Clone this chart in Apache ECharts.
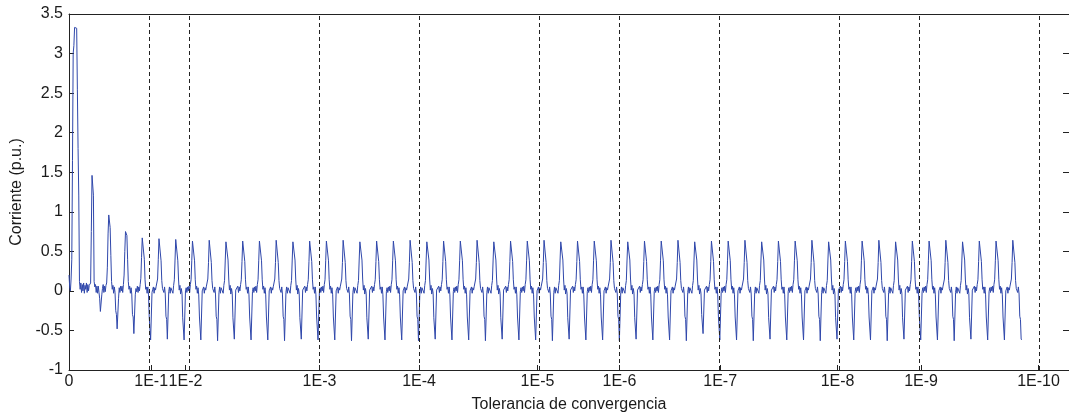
<!DOCTYPE html>
<html>
<head>
<meta charset="utf-8">
<script src="https://cdn.jsdelivr.net/npm/echarts@6/dist/echarts.min.js"></script>
<style>
html,body{margin:0;padding:0;background:#fff;}
#chart{width:1069px;height:418px;}
</style>
</head>
<body>
<div id="chart"></div>
<script>
// Sample step (s) and current samples (p.u.), one row per cycle (24 samples each)
const tiempoPaso = 0.00069755;
const corriente = [
  0.20, 0.05, 0.00, 0.15, 0.40, 1.65, 3.00, 3.10, 3.33, 3.34, 3.33, 3.32, 2.55, 1.80, 1.20, 0.12, 0.02, 0.10, -0.02, 0.08, 0.00, 0.10, -0.03, 0.07,
  0.02, 0.10, -0.02, 0.08, 0.00, 0.07, 0.05, 0.10, 0.75, 1.46, 1.47, 1.21, 0.12, 0.05, 0.08, -0.02, 0.06, -0.03, 0.06, -0.02, -0.10, -0.26, -0.28, -0.05,
  0.03, 0.08, -0.02, 0.06, -0.01, 0.07, 0.10, 0.30, 0.72, 0.96, 0.98, 0.80, 0.45, 0.12, 0.02, 0.07, -0.03, 0.05, -0.02, -0.25, -0.30, -0.48, -0.49, -0.10,
  0.04, -0.02, 0.06, 0.00, 0.06, -0.02, 0.08, 0.20, 0.50, 0.75, 0.77, 0.70, 0.40, 0.12, 0.02, 0.06, -0.03, 0.04, -0.04, -0.30, -0.33, -0.54, -0.55, -0.05,
  0.03, -0.01, 0.06, -0.02, 0.05, 0.00, 0.08, 0.16, 0.42, 0.67, 0.69, 0.65, 0.40, 0.14, 0.02, 0.05, -0.03, 0.05, -0.05, -0.33, -0.35, -0.62, -0.63, -0.02,
  0.02, 0.05, -0.03, 0.04, 0.01, 0.06, 0.07, 0.15, 0.40, 0.66, 0.67, 0.64, 0.38, 0.13, 0.03, 0.05, -0.02, 0.05, -0.04, -0.32, -0.36, -0.61, -0.62, -0.01,
  0.05, -0.03, 0.04, 0.02, 0.05, -0.03, 0.07, 0.14, 0.39, 0.65, 0.66, 0.63, 0.38, 0.15, 0.01, 0.07, -0.04, 0.03, -0.03, -0.34, -0.34, -0.62, -0.63, 0.00,
  0.04, -0.02, 0.05, 0.00, 0.06, -0.02, 0.08, 0.14, 0.38, 0.63, 0.65, 0.62, 0.38, 0.14, 0.02, 0.06, -0.03, 0.04, -0.05, -0.33, -0.35, -0.62, -0.63, 0.00,
  0.02, 0.05, -0.03, 0.04, 0.01, 0.06, 0.07, 0.15, 0.36, 0.64, 0.65, 0.63, 0.36, 0.13, 0.03, 0.05, -0.02, 0.05, -0.04, -0.32, -0.36, -0.63, -0.63, -0.02,
  0.05, -0.03, 0.04, 0.02, 0.05, -0.03, 0.07, 0.13, 0.39, 0.62, 0.64, 0.61, 0.39, 0.15, 0.01, 0.07, -0.04, 0.03, -0.03, -0.34, -0.34, -0.61, -0.62, 0.01,
  0.03, -0.01, 0.06, -0.02, 0.05, 0.00, 0.08, 0.14, 0.37, 0.63, 0.65, 0.62, 0.37, 0.14, 0.02, 0.05, -0.03, 0.05, -0.05, -0.33, -0.35, -0.62, -0.63, -0.01,
  0.04, -0.02, 0.05, 0.00, 0.06, -0.02, 0.08, 0.14, 0.38, 0.63, 0.65, 0.62, 0.38, 0.14, 0.02, 0.06, -0.03, 0.04, -0.05, -0.33, -0.35, -0.62, -0.63, 0.00,
  0.02, 0.05, -0.03, 0.04, 0.01, 0.06, 0.07, 0.15, 0.36, 0.64, 0.65, 0.63, 0.36, 0.13, 0.03, 0.05, -0.02, 0.05, -0.04, -0.32, -0.36, -0.63, -0.63, -0.02,
  0.05, -0.03, 0.04, 0.02, 0.05, -0.03, 0.07, 0.13, 0.39, 0.62, 0.64, 0.61, 0.39, 0.15, 0.01, 0.07, -0.04, 0.03, -0.03, -0.34, -0.34, -0.61, -0.62, 0.01,
  0.03, -0.01, 0.06, -0.02, 0.05, 0.00, 0.08, 0.14, 0.37, 0.63, 0.65, 0.62, 0.37, 0.14, 0.02, 0.05, -0.03, 0.05, -0.05, -0.33, -0.35, -0.62, -0.63, -0.01,
  0.04, -0.02, 0.05, 0.00, 0.06, -0.02, 0.08, 0.14, 0.38, 0.63, 0.65, 0.62, 0.38, 0.14, 0.02, 0.06, -0.03, 0.04, -0.05, -0.33, -0.35, -0.62, -0.63, 0.00,
  0.02, 0.05, -0.03, 0.04, 0.01, 0.06, 0.07, 0.15, 0.36, 0.64, 0.65, 0.63, 0.36, 0.13, 0.03, 0.05, -0.02, 0.05, -0.04, -0.32, -0.36, -0.63, -0.63, -0.02,
  0.05, -0.03, 0.04, 0.02, 0.05, -0.03, 0.07, 0.13, 0.39, 0.62, 0.64, 0.61, 0.39, 0.15, 0.01, 0.07, -0.04, 0.03, -0.03, -0.34, -0.34, -0.61, -0.62, 0.01,
  0.03, -0.01, 0.06, -0.02, 0.05, 0.00, 0.08, 0.14, 0.37, 0.63, 0.65, 0.62, 0.37, 0.14, 0.02, 0.05, -0.03, 0.05, -0.05, -0.33, -0.35, -0.62, -0.63, -0.01,
  0.04, -0.02, 0.05, 0.00, 0.06, -0.02, 0.08, 0.14, 0.38, 0.63, 0.65, 0.62, 0.38, 0.14, 0.02, 0.06, -0.03, 0.04, -0.05, -0.33, -0.35, -0.62, -0.63, 0.00,
  0.02, 0.05, -0.03, 0.04, 0.01, 0.06, 0.07, 0.15, 0.36, 0.64, 0.65, 0.63, 0.36, 0.13, 0.03, 0.05, -0.02, 0.05, -0.04, -0.32, -0.36, -0.63, -0.63, -0.02,
  0.05, -0.03, 0.04, 0.02, 0.05, -0.03, 0.07, 0.13, 0.39, 0.62, 0.64, 0.61, 0.39, 0.15, 0.01, 0.07, -0.04, 0.03, -0.03, -0.34, -0.34, -0.61, -0.62, 0.01,
  0.03, -0.01, 0.06, -0.02, 0.05, 0.00, 0.08, 0.14, 0.37, 0.63, 0.65, 0.62, 0.37, 0.14, 0.02, 0.05, -0.03, 0.05, -0.05, -0.33, -0.35, -0.62, -0.63, -0.01,
  0.04, -0.02, 0.05, 0.00, 0.06, -0.02, 0.08, 0.14, 0.38, 0.63, 0.65, 0.62, 0.38, 0.14, 0.02, 0.06, -0.03, 0.04, -0.05, -0.33, -0.35, -0.62, -0.63, 0.00,
  0.02, 0.05, -0.03, 0.04, 0.01, 0.06, 0.07, 0.15, 0.36, 0.64, 0.65, 0.63, 0.36, 0.13, 0.03, 0.05, -0.02, 0.05, -0.04, -0.32, -0.36, -0.63, -0.63, -0.02,
  0.05, -0.03, 0.04, 0.02, 0.05, -0.03, 0.07, 0.13, 0.39, 0.62, 0.64, 0.61, 0.39, 0.15, 0.01, 0.07, -0.04, 0.03, -0.03, -0.34, -0.34, -0.61, -0.62, 0.01,
  0.03, -0.01, 0.06, -0.02, 0.05, 0.00, 0.08, 0.14, 0.37, 0.63, 0.65, 0.62, 0.37, 0.14, 0.02, 0.05, -0.03, 0.05, -0.05, -0.33, -0.35, -0.62, -0.63, -0.01,
  0.04, -0.02, 0.05, 0.00, 0.06, -0.02, 0.08, 0.14, 0.38, 0.63, 0.65, 0.62, 0.38, 0.14, 0.02, 0.06, -0.03, 0.04, -0.05, -0.33, -0.35, -0.62, -0.63, 0.00,
  0.02, 0.05, -0.03, 0.04, 0.01, 0.06, 0.07, 0.15, 0.36, 0.64, 0.65, 0.63, 0.36, 0.13, 0.03, 0.05, -0.02, 0.05, -0.04, -0.32, -0.36, -0.63, -0.63, -0.02,
  0.05, -0.03, 0.04, 0.02, 0.05, -0.03, 0.07, 0.13, 0.39, 0.62, 0.64, 0.61, 0.39, 0.15, 0.01, 0.07, -0.04, 0.03, -0.03, -0.34, -0.34, -0.61, -0.62, 0.01,
  0.03, -0.01, 0.06, -0.02, 0.05, 0.00, 0.08, 0.14, 0.37, 0.63, 0.65, 0.62, 0.37, 0.14, 0.02, 0.05, -0.03, 0.05, -0.05, -0.33, -0.35, -0.62, -0.63, -0.01,
  0.04, -0.02, 0.05, 0.00, 0.06, -0.02, 0.08, 0.14, 0.38, 0.63, 0.65, 0.62, 0.38, 0.14, 0.02, 0.06, -0.03, 0.04, -0.05, -0.33, -0.35, -0.62, -0.63, 0.00,
  0.02, 0.05, -0.03, 0.04, 0.01, 0.06, 0.07, 0.15, 0.36, 0.64, 0.65, 0.63, 0.36, 0.13, 0.03, 0.05, -0.02, 0.05, -0.04, -0.32, -0.36, -0.63, -0.63, -0.02,
  0.05, -0.03, 0.04, 0.02, 0.05, -0.03, 0.07, 0.13, 0.39, 0.62, 0.64, 0.61, 0.39, 0.15, 0.01, 0.07, -0.04, 0.03, -0.03, -0.34, -0.34, -0.61, -0.62, 0.01,
  0.03, -0.01, 0.06, -0.02, 0.05, 0.00, 0.08, 0.14, 0.37, 0.63, 0.65, 0.62, 0.37, 0.14, 0.02, 0.05, -0.03, 0.05, -0.05, -0.33, -0.35, -0.62, -0.63, -0.01,
  0.04, -0.02, 0.05, 0.00, 0.06, -0.02, 0.08, 0.14, 0.38, 0.63, 0.65, 0.62, 0.38, 0.14, 0.02, 0.06, -0.03, 0.04, -0.05, -0.33, -0.35, -0.62, -0.63, 0.00,
  0.02, 0.05, -0.03, 0.04, 0.01, 0.06, 0.07, 0.15, 0.36, 0.64, 0.65, 0.63, 0.36, 0.13, 0.03, 0.05, -0.02, 0.05, -0.04, -0.32, -0.36, -0.63, -0.63, -0.02,
  0.05, -0.03, 0.04, 0.02, 0.05, -0.03, 0.07, 0.13, 0.39, 0.62, 0.64, 0.61, 0.39, 0.15, 0.01, 0.07, -0.04, 0.03, -0.03, -0.30, -0.32, -0.54, -0.55, 0.01,
  0.03, -0.01, 0.06, -0.02, 0.05, 0.00, 0.08, 0.14, 0.37, 0.63, 0.65, 0.62, 0.37, 0.14, 0.02, 0.05, -0.03, 0.05, -0.05, -0.33, -0.35, -0.62, -0.63, -0.01,
  0.04, -0.02, 0.05, 0.00, 0.06, -0.02, 0.08, 0.14, 0.38, 0.63, 0.65, 0.62, 0.38, 0.14, 0.02, 0.06, -0.03, 0.04, -0.05, -0.33, -0.35, -0.62, -0.63, 0.00,
  0.02, 0.05, -0.03, 0.04, 0.01, 0.06, 0.07, 0.15, 0.36, 0.64, 0.65, 0.63, 0.36, 0.13, 0.03, 0.05, -0.02, 0.05, -0.04, -0.32, -0.36, -0.63, -0.63, -0.02,
  0.05, -0.03, 0.04, 0.02, 0.05, -0.03, 0.07, 0.13, 0.39, 0.62, 0.64, 0.61, 0.39, 0.15, 0.01, 0.07, -0.04, 0.03, -0.03, -0.34, -0.34, -0.61, -0.62, 0.01,
  0.03, -0.01, 0.06, -0.02, 0.05, 0.00, 0.08, 0.14, 0.37, 0.63, 0.65, 0.62, 0.37, 0.14, 0.02, 0.05, -0.03, 0.05, -0.05, -0.33, -0.35, -0.62, -0.63, -0.01,
  0.04, -0.02, 0.05, 0.00, 0.06, -0.02, 0.08, 0.14, 0.38, 0.63, 0.65, 0.62, 0.38, 0.14, 0.02, 0.06, -0.03, 0.04, -0.05, -0.33, -0.35, -0.62, -0.63, 0.00,
  0.02, 0.05, -0.03, 0.04, 0.01, 0.06, 0.07, 0.15, 0.36, 0.64, 0.65, 0.63, 0.36, 0.13, 0.03, 0.05, -0.02, 0.05, -0.04, -0.32, -0.36, -0.63, -0.63, -0.02,
  0.05, -0.03, 0.04, 0.02, 0.05, -0.03, 0.07, 0.13, 0.39, 0.62, 0.64, 0.61, 0.39, 0.15, 0.01, 0.07, -0.04, 0.03, -0.03, -0.34, -0.34, -0.61, -0.62, 0.01,
  0.03, -0.01, 0.06, -0.02, 0.05, 0.00, 0.08, 0.14, 0.37, 0.63, 0.65, 0.62, 0.37, 0.14, 0.02, 0.05, -0.03, 0.05, -0.05, -0.33, -0.35, -0.62, -0.63, -0.01,
  0.04, -0.02, 0.05, 0.00, 0.06, -0.02, 0.08, 0.14, 0.38, 0.63, 0.65, 0.62, 0.38, 0.14, 0.02, 0.06, -0.03, 0.04, -0.05, -0.33, -0.35, -0.62, -0.63, 0.00,
  0.02, 0.05, -0.03, 0.04, 0.01, 0.06, 0.07, 0.15, 0.36, 0.64, 0.65, 0.63, 0.36, 0.13, 0.03, 0.05, -0.02, 0.05, -0.04, -0.32, -0.36, -0.63, -0.63, -0.02,
  0.05, -0.03, 0.04, 0.02, 0.05, -0.03, 0.07, 0.13, 0.39, 0.62, 0.64, 0.61, 0.39, 0.15, 0.01, 0.07, -0.04, 0.03, -0.03, -0.34, -0.34, -0.61, -0.62, 0.01,
  0.03, -0.01, 0.06, -0.02, 0.05, 0.00, 0.08, 0.14, 0.37, 0.63, 0.65, 0.62, 0.37, 0.14, 0.02, 0.05, -0.03, 0.05, -0.05, -0.33, -0.35, -0.62, -0.63, -0.01,
  0.04, -0.02, 0.05, 0.00, 0.06, -0.02, 0.08, 0.14, 0.38, 0.63, 0.65, 0.62, 0.38, 0.14, 0.02, 0.06, -0.03, 0.04, -0.05, -0.33, -0.35, -0.62, -0.63, 0.00,
  0.02, 0.05, -0.03, 0.04, 0.01, 0.06, 0.07, 0.15, 0.36, 0.64, 0.65, 0.63, 0.36, 0.13, 0.03, 0.05, -0.02, 0.05, -0.04, -0.32, -0.36, -0.63, -0.63, -0.02,
  0.05, -0.03, 0.04, 0.02, 0.05, -0.03, 0.07, 0.13, 0.39, 0.62, 0.64, 0.61, 0.39, 0.15, 0.01, 0.07, -0.04, 0.03, -0.03, -0.34, -0.34, -0.61, -0.62, 0.01,
  0.03, -0.01, 0.06, -0.02, 0.05, 0.00, 0.08, 0.14, 0.37, 0.63, 0.65, 0.62, 0.37, 0.14, 0.02, 0.05, -0.03, 0.05, -0.05, -0.33, -0.35, -0.62, -0.63, -0.01,
  0.04, -0.02, 0.05, 0.00, 0.06, -0.02, 0.08, 0.14, 0.38, 0.63, 0.65, 0.62, 0.38, 0.14, 0.02, 0.06, -0.03, 0.04, -0.05, -0.33, -0.35, -0.62, -0.63, 0.00,
  0.02, 0.05, -0.03, 0.04, 0.01, 0.06, 0.07, 0.15, 0.36, 0.64, 0.65, 0.63, 0.36, 0.13, 0.03, 0.05, -0.02, 0.05, -0.04, -0.32, -0.36, -0.61, -0.62
];
// Tolerance change instants (x positions) and their labels
const tolPos = [0.0822, 0.1165, 0.2505, 0.3501, 0.4685, 0.5504, 0.6512, 0.7686, 0.8521, 0.9695];
const tolLabels = ['1E-1', '1E-2', '1E-3', '1E-4', '1E-5', '1E-6', '1E-7', '1E-8', '1E-9', '1E-10'];
const xRange = [0, 1];
const yRange = [-1, 3.5];
const yStep = 0.5;

const FONT = '"Liberation Sans", Arial, Helvetica, sans-serif';
const TXT = '#1a1a1a';
const serie = corriente.map((v, i) => [i * tiempoPaso, v]);
const xTickVals = [0].concat(tolPos);
function xLabel(v) {
  if (Math.abs(v) < 1e-9) return '0';
  for (let i = 0; i < tolPos.length; i++) {
    if (Math.abs(v - tolPos[i]) < 1e-7) return tolLabels[i];
  }
  return '';
}

const chart = echarts.init(document.getElementById('chart'), null, {renderer: 'canvas'});
chart.setOption({
  animation: false,
  backgroundColor: '#ffffff',
  textStyle: {fontFamily: FONT},
  grid: {left: 69, top: 14, width: 1001, height: 359, containLabel: false},
  xAxis: [{
    type: 'value', min: xRange[0], max: xRange[1], position: 'bottom',
    name: 'Tolerancia de convergencia', nameLocation: 'middle', nameGap: 27,
    nameTextStyle: {fontSize: 16, color: TXT, fontFamily: FONT},
    axisLine: {show: true, onZero: false, lineStyle: {color: '#222', width: 1}},
    axisTick: {show: true, inside: true, length: 5, customValues: xTickVals, lineStyle: {color: '#222'}},
    axisLabel: {show: true, customValues: xTickVals, formatter: xLabel, margin: 4,
                fontSize: 16, color: TXT, fontFamily: FONT, hideOverlap: false},
    splitLine: {show: false}
  }, {
    type: 'value', min: xRange[0], max: xRange[1], position: 'top',
    axisLine: {show: true, onZero: false, lineStyle: {color: '#222', width: 1}},
    axisTick: {show: false}, axisLabel: {show: false}, splitLine: {show: false}
  }],
  yAxis: [{
    type: 'value', min: yRange[0], max: yRange[1], interval: yStep, position: 'left',
    name: 'Corriente (p.u.)', nameLocation: 'middle', nameGap: 44,
    nameTextStyle: {fontSize: 16, color: TXT, fontFamily: FONT},
    axisLine: {show: true, onZero: false, lineStyle: {color: '#222', width: 1}},
    axisTick: {show: true, inside: true, length: 5, lineStyle: {color: '#222'}},
    axisLabel: {margin: 6, fontSize: 16, color: TXT, fontFamily: FONT},
    splitLine: {show: false}
  }, {
    type: 'value', min: yRange[0], max: yRange[1], interval: yStep, position: 'right',
    axisLine: {show: true, onZero: false, lineStyle: {color: '#222', width: 1}},
    axisTick: {show: true, inside: true, length: 6, lineStyle: {color: '#222'}},
    axisLabel: {show: false}, splitLine: {show: false}
  }],
  series: [{
    type: 'line', data: serie, xAxisIndex: 0, yAxisIndex: 0,
    showSymbol: false, symbol: 'none', smooth: false,
    lineStyle: {color: '#2f47ab', width: 1},
    markLine: {
      silent: true, symbol: ['none', 'none'], animation: false,
      label: {show: false},
      lineStyle: {color: '#222', width: 1, type: [4, 3]},
      data: tolPos.map(p => ({xAxis: p}))
    }
  }]
});
</script>
</body>
</html>
